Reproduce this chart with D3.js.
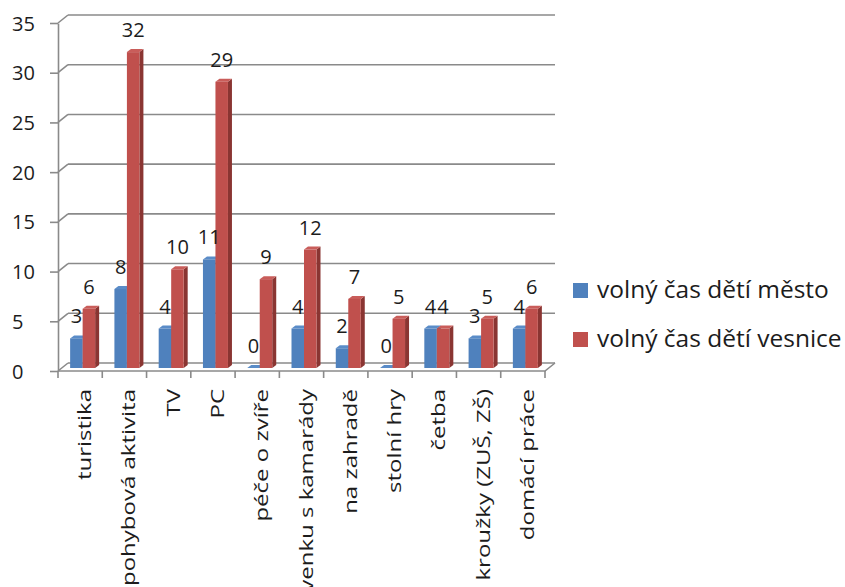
<!DOCTYPE html>
<html>
<head>
<meta charset="utf-8">
<script src="https://cdn.jsdelivr.net/npm/d3@7"></script>
<style>
  html, body { margin: 0; padding: 0; background: #fff; }
  svg { display: block; font-family: "Open Sans", sans-serif; }
</style>
</head>
<body>
<svg id="chart" width="845" height="587"></svg>
<script>
// Free-time activities of children: town vs. village
const categories = ["turistika", "pohybová aktivita", "TV", "PC", "péče o zvíře", "venku s kamarády",
  "na zahradě", "stolní  hry", "četba", "kroužky (ZUŠ, ZŠ)", "domácí práce"];
const mesto   = [3, 8, 4, 11, 0, 4, 2, 0, 4, 3, 4];
const vesnice = [6, 32, 10, 29, 9, 12, 7, 5, 4, 5, 6];
const seriesNames = ["volný čas dětí město", "volný čas dětí vesnice"];
const yTicks = [0, 5, 10, 15, 20, 25, 30, 35];

const colors = [
  { front: "#4F81BD", side: "#38608F", top: "#5A8CC8" },
  { front: "#C0504D", side: "#8A3532", top: "#C95D5A" }
];
const textColor = "#1c1c1c";

const svg = d3.select("#chart");
const grid = "#8a8a8a";

// 3D frame: front plane and back wall offset
const x0 = 58, x1 = 545, yBase = 371, yTop = 23;
const depth = { dx: 10, dy: -8 };

const x = d3.scaleBand().domain(categories).range([x0, x1]).padding(0);
const yFront = d3.scaleLinear().domain([0, 35]).range([yBase, yTop]);
const yBack = v => yFront(v) + depth.dy;
// bars stand halfway into the depth of the floor
const yBar = d3.scaleLinear().domain([0, 35]).range([368, 22.5]);
const barDx = 5;
const barW = 12.5;
const side = { dx: 4, dy: -3 };

// back wall gridlines and left wall diagonals
const gridG = svg.append("g");
yTicks.forEach(t => {
  gridG.append("line")
    .attr("x1", x0 + depth.dx).attr("x2", x1 + depth.dx)
    .attr("y1", yBack(t)).attr("y2", yBack(t))
    .attr("stroke", grid).attr("stroke-width", 1.6);
  gridG.append("line")
    .attr("x1", x0).attr("x2", x0 + depth.dx)
    .attr("y1", yFront(t)).attr("y2", yBack(t))
    .attr("stroke", grid).attr("stroke-width", 1.6);
});

// floor outline
gridG.append("path")
  .attr("d", `M${x0},${yBase} L${x1},${yBase} L${x1 + depth.dx},${yBase + depth.dy}`)
  .attr("fill", "none").attr("stroke", grid).attr("stroke-width", 1.6);

// y axis
const yAxis = d3.axisLeft(yFront).tickValues(yTicks).tickSize(8).tickSizeOuter(0);
const yAxisG = svg.append("g").attr("transform", `translate(${x0},0)`).call(yAxis);
yAxisG.select(".domain").attr("stroke", grid).attr("stroke-width", 1.6);
yAxisG.selectAll(".tick line").attr("stroke", grid).attr("stroke-width", 1.6);
yAxisG.selectAll(".tick text")
  .attr("x", 12 - x0).attr("dy", "0.35em")
  .attr("text-anchor", "start")
  .attr("font-family", "Open Sans").attr("font-size", 20).attr("fill", textColor);

// category tick marks at band boundaries
const bounds = categories.map(c => x(c)).concat([x1]);
svg.append("g").selectAll("line").data(bounds).join("line")
  .attr("x1", d => d).attr("x2", d => d)
  .attr("y1", yBase).attr("y2", yBase + 7)
  .attr("stroke", grid).attr("stroke-width", 1.6);

// category labels, rotated
svg.append("g").selectAll("text").data(categories).join("text")
  .attr("transform", d => `translate(${x(d) + x.bandwidth() / 2 + 11},389) rotate(-90) scale(1,0.78)`)
  .attr("text-anchor", "end")
  .attr("font-size", 24).attr("fill", textColor)
  .text(d => d);

// 3D bars
const barsG = svg.append("g");
const labelsG = svg.append("g");
const seriesData = [mesto, vesnice];
categories.forEach((c, i) => {
  seriesData.forEach((vals, s) => {
    const v = vals[i];
    const bx = x(c) + x.bandwidth() / 2 + barDx - 15 + s * barW;
    const yb = yBar(0), yt = yBar(v);
    const col = colors[s];
    // right side face
    barsG.append("path")
      .attr("d", `M${bx + barW},${yb} L${bx + barW + side.dx},${yb + side.dy} L${bx + barW + side.dx},${yt + side.dy} L${bx + barW},${yt} Z`)
      .attr("fill", col.side);
    // top face
    barsG.append("path")
      .attr("d", `M${bx},${yt} L${bx + side.dx},${yt + side.dy} L${bx + barW + side.dx},${yt + side.dy} L${bx + barW},${yt} Z`)
      .attr("fill", col.top);
    // front face
    if (v > 0) {
      barsG.append("rect")
        .attr("x", bx).attr("y", yt)
        .attr("width", barW).attr("height", yb - yt)
        .attr("fill", col.front);
    }
    // value label (drawn above all bars)
    labelsG.append("text")
      .attr("x", bx + barW / 2).attr("y", yt - 15)
      .attr("text-anchor", "middle")
      .attr("font-size", 20).attr("fill", textColor)
      .text(v);
  });
});

// legend
const legend = svg.append("g");
seriesNames.forEach((name, s) => {
  const ly = 283 + s * 49;
  legend.append("rect").attr("x", 573).attr("y", ly).attr("width", 15).attr("height", 15)
    .attr("fill", colors[s].front);
  legend.append("text").attr("x", 597).attr("y", ly + 15)
    .attr("font-size", 24.5).attr("fill", textColor).text(name);
});
</script>
</body>
</html>
